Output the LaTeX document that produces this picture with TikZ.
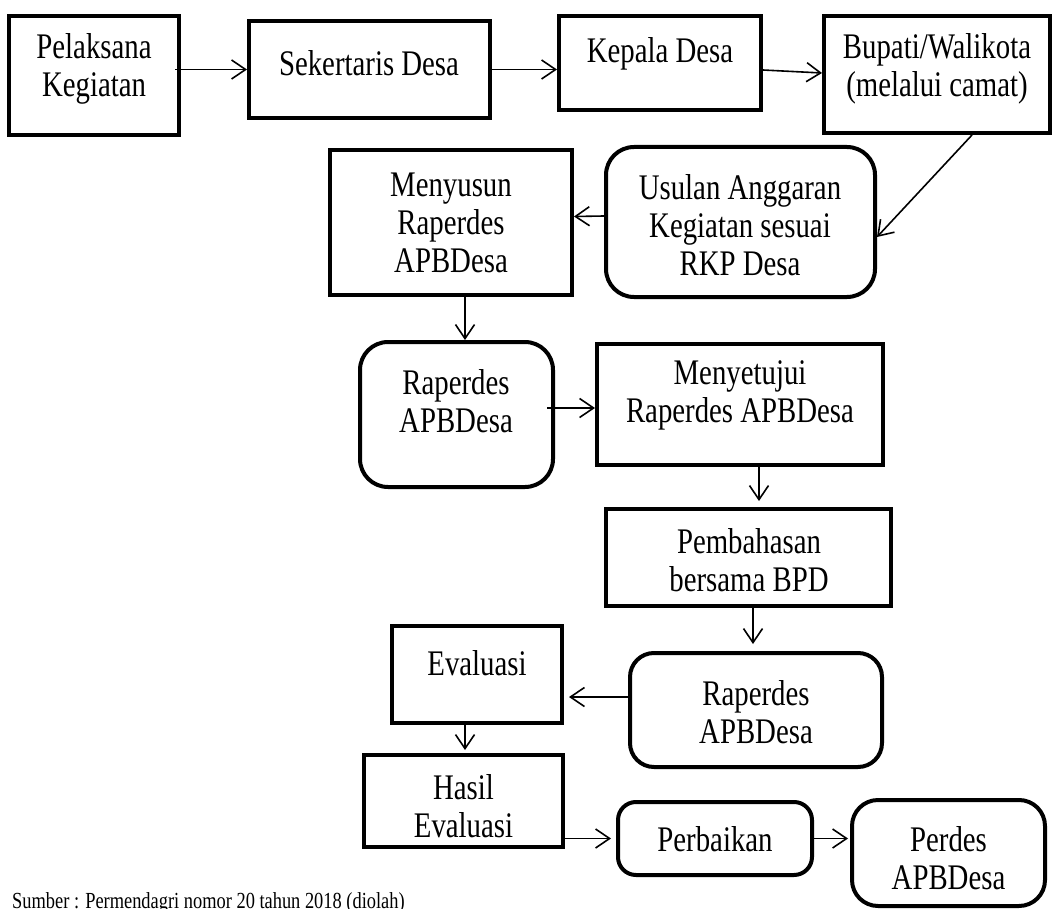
\documentclass[tikz,border=0pt]{standalone}
\usepackage{fontspec}
\setmainfont{Liberation Serif}[FakeStretch=0.8]
\usetikzlibrary{arrows.meta}
\begin{document}
\begin{tikzpicture}[x=1pt,y=-1pt,
  box/.style={draw, line width=4pt, inner sep=0pt, rectangle},
  rbox/.style={box, rounded corners=#1},
  txt/.style={align=center, inner sep=0pt, font=\fontsize{36}{38}\selectfont},
  arr/.style={line width=1.6pt, -{Straight Barb[length=14pt,width=19pt,line width=1.6pt]}},
]
\useasboundingbox (0,0) rectangle (1057,909);
% boxes (center, size)
\node[box, minimum width=170pt, minimum height=119pt] (b1) at (94,75.5) {};
\node[box, minimum width=241pt, minimum height=97pt] (b2) at (369.5,69.5) {};
\node[box, minimum width=202pt, minimum height=94pt] (b3) at (660,63) {};
\node[box, minimum width=226pt, minimum height=117pt] (b4) at (937,74.5) {};
\node[box, minimum width=242pt, minimum height=145pt] (b5) at (451,222.5) {};
\node[rbox=28pt, minimum width=269pt, minimum height=150pt] (b6) at (740.5,222) {};
\node[rbox=28pt, minimum width=193pt, minimum height=145pt] (b7) at (456.5,414.5) {};
\node[box, minimum width=286pt, minimum height=121pt] (b8) at (740,404.5) {};
\node[box, minimum width=285pt, minimum height=97pt] (b9) at (748.5,557.5) {};
\node[box, minimum width=170pt, minimum height=97pt] (b10) at (477,674.5) {};
\node[rbox=24pt, minimum width=252pt, minimum height=114pt] (b11) at (756,710) {};
\node[box, minimum width=199pt, minimum height=92pt] (b12) at (463.5,801) {};
\node[rbox=18pt, minimum width=194pt, minimum height=73pt] (b13) at (715,838.5) {};
\node[rbox=26pt, minimum width=193pt, minimum height=106pt] (b14) at (948.5,853) {};
% texts
\node[txt] (t1) at (94,69) {Pelaksana\\Kegiatan};
\node[txt] (t2) at (369,63) {Sekertaris Desa};
\node[txt] (t3) at (660,54) {Kepala Desa};
\node[txt] (t4) at (937,69) {Bupati/Walikota\\(melalui camat)};
\node[txt] (t5) at (451,223) {Menyusun\\Raperdes\\APBDesa};
\node[txt] (t6) at (740,225) {Usulan Anggaran\\Kegiatan sesuai\\RKP Desa};
\node[txt] (t7) at (456,401) {Raperdes\\APBDesa};
\node[txt] (t8) at (740,395) {Menyetujui\\Raperdes APBDesa};
\node[txt] (t9) at (749,560) {Pembahasan\\bersama BPD};
\node[txt] (t10) at (477,663) {Evaluasi};
\node[txt] (t11) at (756,712) {Raperdes\\APBDesa};
\node[txt] (t12) at (463.5,806) {Hasil\\Evaluasi};
\node[txt] (t13) at (715,839) {Perbaikan};
\node[txt] (t14) at (948.5,858) {Perdes\\APBDesa};
\node[anchor=base west, inner sep=0pt, font=\fontsize{23}{26}\selectfont] (src) at (12,908) {Sumber : Permendagri nomor 20 tahun 2018 (diolah)};
% connectors
\draw[arr] ([xshift=-6pt]b1.east |- b2.west) -- (b2.west);
\draw[arr] (b2.east) -- (b3.west |- b2.east);
\draw[arr] ([yshift=-7pt]b3.east) -- ([yshift=1.5pt]b4.west);
\draw[arr] ([xshift=35pt]b4.south) -- ([yshift=-15pt]b6.east);
\draw[arr] ([yshift=6pt]b6.west) -- ([yshift=6pt]b5.east);
\draw[arr] ([xshift=14pt]b5.south) -- ([xshift=14pt]b5.south |- b7.north);
\draw[arr] ([xshift=-8pt,yshift=6.5pt]b7.east) -- ([yshift=-3.5pt]b8.west);
\draw[arr, shorten >=6pt] ([xshift=19pt]b8.south) -- ([xshift=19pt]b8.south |- b9.north);
\draw[arr, shorten >=7pt] ([xshift=4.5pt]b9.south) -- ([xshift=4.5pt]b9.south |- b11.north);
\draw[arr, shorten >=5pt] ([yshift=13pt]b11.west) -- ([yshift=13pt]b11.west -| b10.east);
\draw[arr, shorten >=3pt] ([xshift=-12pt]b10.south) -- ([xshift=-12pt]b10.south |- b12.north);
\draw[arr, shorten >=5pt] (b12.east |- b13.west) -- (b13.west);
\draw[arr, shorten >=2pt] (b13.east) -- (b13.east -| b14.west);
\end{tikzpicture}
\end{document}
